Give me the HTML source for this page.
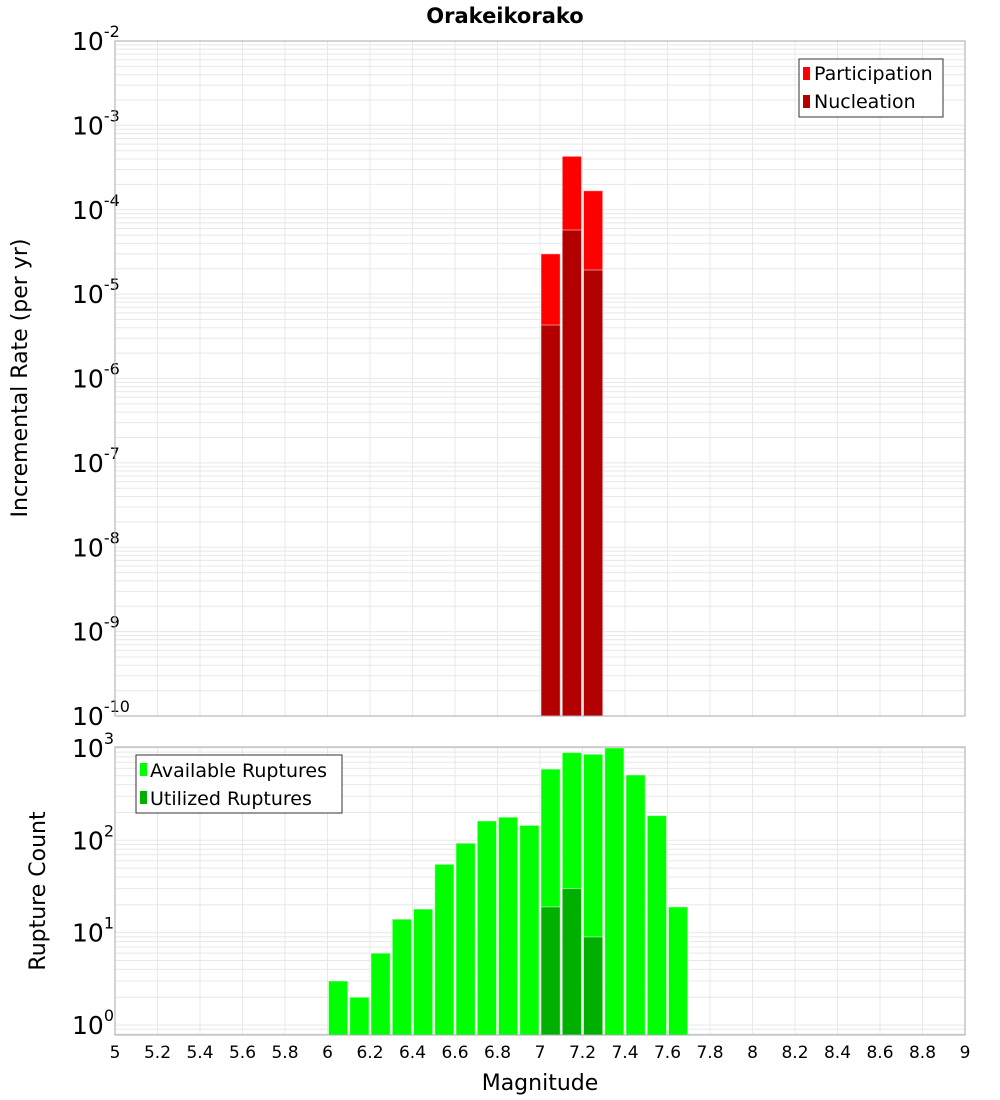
<!DOCTYPE html>
<html><head><meta charset="utf-8"><style>
body{margin:0;background:#fff;}
svg{display:block;font-family:"DejaVu Sans","Liberation Sans",sans-serif;}
</style></head><body>
<svg id="c" width="1000" height="1100" xmlns="http://www.w3.org/2000/svg">
<text x="505" y="23" text-anchor="middle" font-size="21" font-weight="bold">Orakeikorako</text>
<g id="topPanel"></g>
<g id="botPanel"></g>
<text transform="translate(27,378) rotate(-90)" text-anchor="middle" font-size="22">Incremental Rate (per yr)</text>
<text transform="translate(45,891) rotate(-90)" text-anchor="middle" font-size="22">Rupture Count</text>
<text x="540" y="1090" text-anchor="middle" font-size="22">Magnitude</text>
<g>
<rect x="799" y="59" width="144" height="58" fill="#fff" stroke="#333"/>
<rect x="803" y="67" width="7" height="13" fill="#ff0000"/>
<text x="814" y="80" font-size="19">Participation</text>
<rect x="803" y="95" width="7" height="13" fill="#b30000"/>
<text x="814" y="108" font-size="19">Nucleation</text>
</g>
<g>
<rect x="136" y="755" width="206" height="58" fill="#fff" stroke="#333"/>
<rect x="140" y="763" width="7" height="13" fill="#00ff00"/>
<text x="150" y="777" font-size="19">Available Ruptures</text>
<rect x="140" y="791" width="7" height="13" fill="#00b000"/>
<text x="150" y="805" font-size="19">Utilized Ruptures</text>
</g>
</svg>
<script>
const rateMags=[7.05,7.15,7.25];
const participation=[3.0e-5,4.3e-4,1.68e-4];
const nucleation=[4.3e-6,5.75e-5,1.93e-5];
const countMags=[6.05,6.15,6.25,6.35,6.45,6.55,6.65,6.75,6.85,6.95,7.05,7.15,7.25,7.35,7.45,7.55,7.65];
const available=[3,2,6,14,18,55,93,162,178,145,590,890,855,1000,510,185,19];
const utilMags=[7.05,7.15,7.25];
const utilized=[19,30,9];
const xTicks=[5,5.2,5.4,5.6,5.8,6,6.2,6.4,6.6,6.8,7,7.2,7.4,7.6,7.8,8,8.2,8.4,8.6,8.8,9];
const topExps=[-2,-3,-4,-5,-6,-7,-8,-9,-10];
const botExps=[0,1,2,3];
const NS='http://www.w3.org/2000/svg';
const X0=115,X1=965;
function sx(m){return X0+(m-5)/4*(X1-X0);}
function mk(p,t,a){const e=document.createElementNS(NS,t);for(const k in a)e.setAttribute(k,a[k]);p.appendChild(e);return e;}
function panel(g,y0,y1,lmin,lmax,exps,name){
 const sy=v=>y1-(Math.log10(v)-lmin)/(lmax-lmin)*(y1-y0);
 const grid=mk(g,'g',{});
 
 
 for(let e=Math.floor(lmin);e<=Math.ceil(lmax);e++)for(let k=1;k<10;k++){
  const v=k*Math.pow(10,e);const l=Math.log10(v);if(l<lmin||l>lmax)continue;
  const y=sy(v);mk(grid,'line',{x1:X0,x2:X1,y1:y,y2:y,stroke:'#e8e8e8','stroke-width':1});
 }
 xTicks.forEach(t=>{const x=sx(t);mk(grid,'line',{x1:x,x2:x,y1:y0,y2:y1,stroke:'#e8e8e8','stroke-width':1});});
 exps.forEach(e=>{
  const y=sy(Math.pow(10,e));
  const t=mk(g,'text',{x:72,y:y+9,'font-size':25});
  
  
  t.textContent='10';
  const s=mk(t,'tspan',{dy:-13,'font-size':16});s.textContent=String(e);
 });
 return sy;
}
function bars(g,sy,mags,vals,color,yb,name){
 mags.forEach((m,i)=>{
  const y=Math.max(sy(vals[i]),0);
  const r=mk(g,'rect',{x:sx(m-0.05)+1,y:y,width:sx(m+0.05)-sx(m-0.05)-2,height:yb-y,fill:color,stroke:'rgba(255,255,255,0.5)','stroke-width':1});
  
  
 });
}
const topG=document.getElementById('topPanel'),botG=document.getElementById('botPanel');
const syT=panel(topG,41,716,-10,-2,topExps,'rate');
bars(topG,syT,rateMags,participation,'#ff0000',716,'bar-participation');
bars(topG,syT,rateMags,nucleation,'#b30000',716,'bar-nucleation');
mk(topG,'rect',{x:X0,y:41,width:X1-X0,height:675,fill:'none',stroke:'#aaa'});
const lminB=Math.log10(0.78),lmaxB=3.01;
const syB=panel(botG,747,1035,lminB,lmaxB,botExps,'count');
bars(botG,syB,countMags,available,'#00ff00',1035,'bar-available');
bars(botG,syB,utilMags,utilized,'#00b000',1035,'bar-utilized');
mk(botG,'rect',{x:X0,y:747,width:X1-X0,height:288,fill:'none',stroke:'#aaa'});
xTicks.forEach(t=>{
 const e=mk(botG,'text',{x:sx(t),y:1058,'font-size':17,'text-anchor':'middle'});
 
 
 e.textContent=String(t);
});
</script>
</body></html>
